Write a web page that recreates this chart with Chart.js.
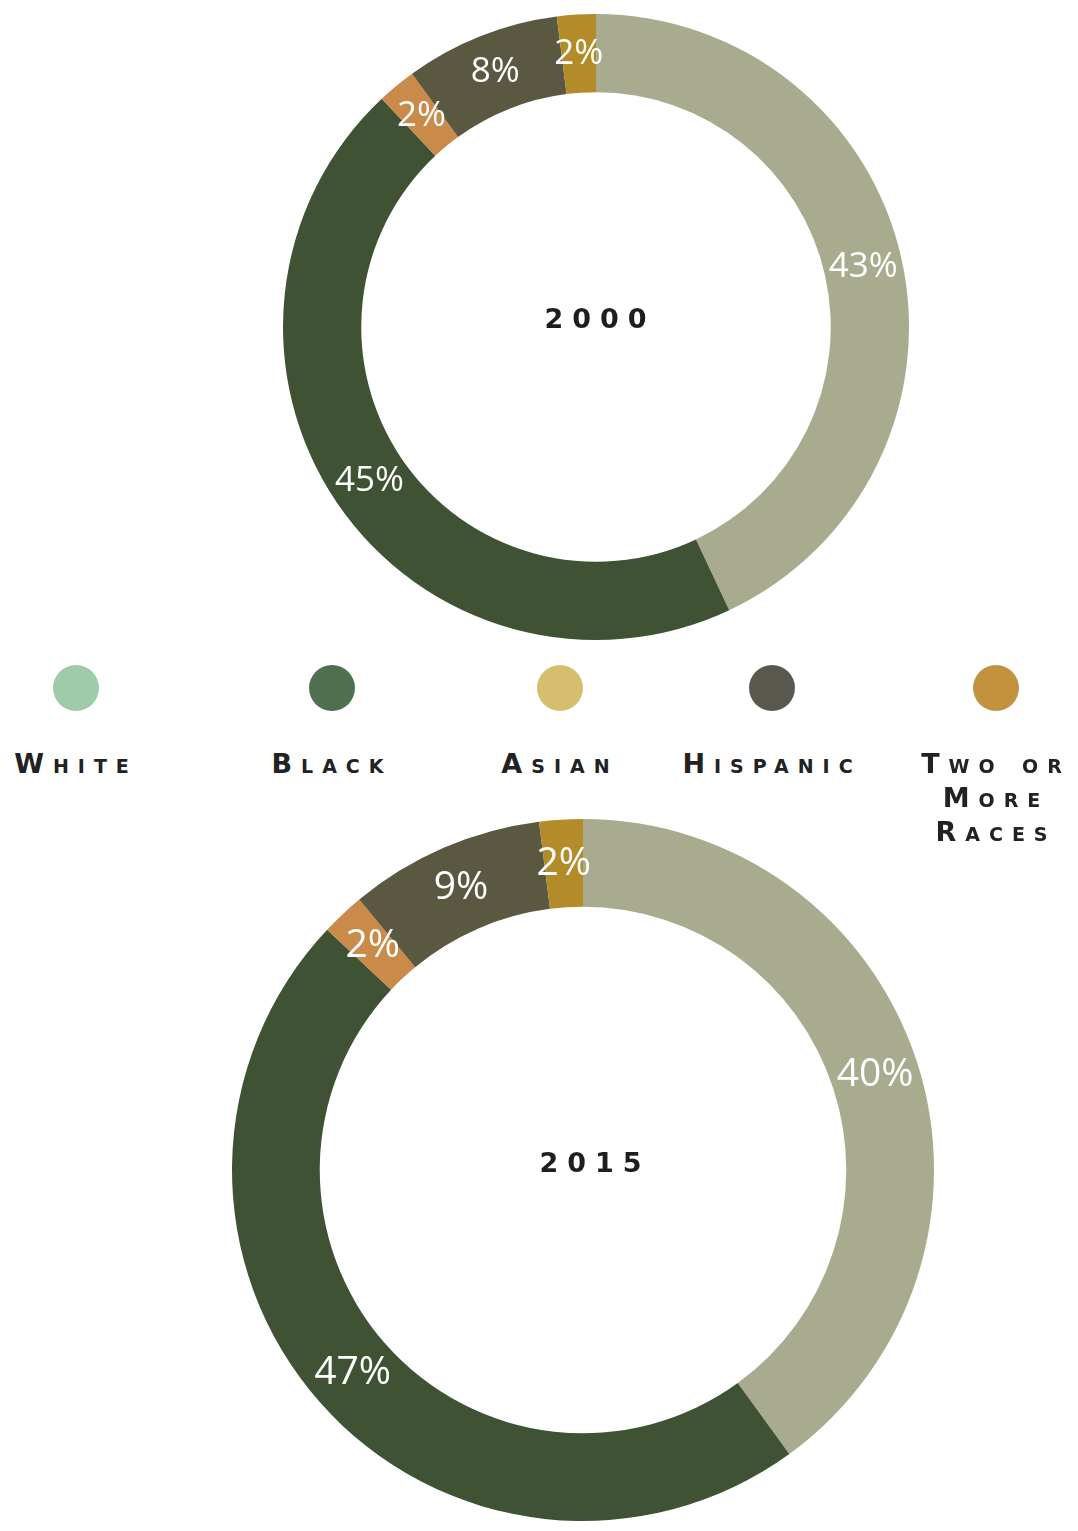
<!DOCTYPE html>
<html>
<head>
<meta charset="utf-8">
<script src="https://cdn.jsdelivr.net/npm/chart.js@4.4.1/dist/chart.umd.min.js"></script>
<style>
    body { margin: 0; background: #fff; width: 1078px; height: 1531px; position: relative; overflow: hidden; }
    .ring { position: absolute; }
    .year {
        position: absolute; transform: translate(-50%, -50%);
        font-family: "DejaVu Sans", sans-serif; font-weight: bold;
        font-size: 27px; letter-spacing: 9px; color: #1e1e1e;
    }
    .item { position: absolute; top: 665px; width: 220px; margin-left: -110px; text-align: center; }
    .dot { width: 46px; height: 46px; border-radius: 50%; margin: 0 auto; }
    .name {
        margin-top: 36px; font-family: "DejaVu Sans", sans-serif; font-weight: bold;
        font-size: 27px; font-variant: small-caps; letter-spacing: 9px;
        line-height: 34px; color: #222;
    }
</style>
</head>
<body>
<div class="ring" style="left:276px; top:7px; width:640px; height:640px;"><canvas id="chart2000"></canvas></div>
<div class="ring" style="left:223px; top:810px; width:720px; height:720px;"><canvas id="chart2015"></canvas></div>
<div class="year" style="left:600px; top:318px;">2000</div>
<div class="year" style="left:595px; top:1162px;">2015</div>
<div id="legend"></div>

<script>
// slices, clockwise from 12 o'clock
const categories = ['White', 'Black', 'Two or More Races', 'Hispanic', 'Asian'];
const values2000 = [43, 45, 2, 8, 2];
const values2015 = [40, 47, 2, 9, 2];
const sliceColors = ['#a9ab8e', '#3f5234', '#c98a4a', '#5b5841', '#b38b28'];

// legend, left to right
const legendNames = ['White', 'Black', 'Asian', 'Hispanic', 'Two or<br>More<br>Races'];
const legendColors = ['#9fcbab', '#4f6f4f', '#d5bf6e', '#58584f', '#c3923e'];
const legendX = [76, 332, 560, 772, 996]; // layout only

// draw the % text in the middle of each ring segment
const sliceLabels = {
    id: 'sliceLabels',
    afterDatasetsDraw(chart, args, opts) {
        const ctx = chart.ctx;
        const meta = chart.getDatasetMeta(0);
        ctx.save();
        ctx.fillStyle = '#ffffff';
        ctx.font = opts.size + 'px "Open Sans", sans-serif';
        ctx.textAlign = 'center';
        ctx.textBaseline = 'middle';
        meta.data.forEach((arc, i) => {
            const p = arc.getCenterPoint();
            ctx.fillText(chart.data.datasets[0].data[i] + '%', p.x, p.y);
        });
        ctx.restore();
    }
};

function makeRing(id, values, pad, fontSize) {
    return new Chart(document.getElementById(id), {
        type: 'doughnut',
        data: {
            labels: categories,
            datasets: [{
                data: values,
                backgroundColor: sliceColors,
                borderWidth: 0
            }]
        },
        options: {
            responsive: true,
            maintainAspectRatio: false,
            animation: false,
            cutout: '75%',
            layout: { padding: pad },
            plugins: {
                legend: { display: false },
                tooltip: { enabled: false },
                sliceLabels: { size: fontSize }
            }
        },
        plugins: [sliceLabels]
    });
}

makeRing('chart2000', values2000, 7, 35);
makeRing('chart2015', values2015, 9, 39);

// --- legend ---
const legend = document.getElementById('legend');
legendNames.forEach((name, i) => {
    const item = document.createElement('div');
    item.className = 'item';
    item.style.left = legendX[i] + 'px';
    item.innerHTML = '<div class="dot" style="background:' + legendColors[i] + '"></div>' +
        '<div class="name">' + name + '</div>';
    legend.appendChild(item);
});
</script>
</body>
</html>
